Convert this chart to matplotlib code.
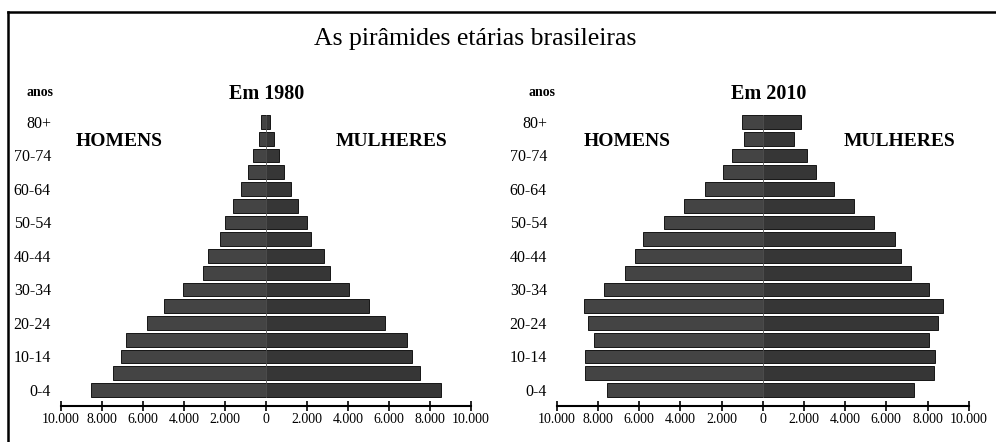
import matplotlib
matplotlib.use("Agg")
import matplotlib.pyplot as plt
from matplotlib.lines import Line2D
import numpy as np

plt.rcParams['font.family'] = ['Liberation Serif', 'DejaVu Serif']

ages = ['0-4', '5-9', '10-14', '15-19', '20-24', '25-29', '30-34', '35-39',
        '40-44', '45-49', '50-54', '55-59', '60-64', '65-69', '70-74', '75-79', '80+']
men_1980 = [8500, 7450, 7070, 6800, 5800, 4980, 4030, 3080, 2830, 2230, 1980, 1580, 1200, 890, 640, 340, 240]
women_1980 = [8540, 7510, 7120, 6860, 5820, 5040, 4070, 3150, 2850, 2200, 2000, 1590, 1220, 890, 650, 410, 180]
men_2010 = [7560, 8640, 8610, 8200, 8500, 8690, 7720, 6670, 6200, 5810, 4770, 3830, 2820, 1940, 1470, 920, 1000]
women_2010 = [7360, 8300, 8380, 8090, 8500, 8750, 8090, 7220, 6730, 6410, 5390, 4450, 3450, 2610, 2150, 1500, 1860]
xtick_values = [-10000, -8000, -6000, -4000, -2000, 0, 2000, 4000, 6000, 8000, 10000]
xtick_labels = ['10.000', '8.000', '6.000', '4.000', '2.000', '0', '2.000', '4.000', '6.000', '8.000', '10.000']
title = 'As pirâmides etárias brasileiras'
years = ['Em 1980', 'Em 2010']

W, H = 996, 442
fig = plt.figure(figsize=(W / 100, H / 100), dpi=100)

def fx(px):
    return px / W

def fy(py):
    return 1 - py / H

ax_bottom = fy(405.7)
ax_height = fy(60) - ax_bottom
panels = [
    (60.7, 471.0, men_1980, women_1980),
    (556.7, 968.7, men_2010, women_2010),
]

ylo, yhi = -0.94, 19.7
bar_h = 0.82
ypos = np.arange(len(ages))
for (x0, x1, men, women) in panels:
    ax = fig.add_axes([fx(x0), ax_bottom, fx(x1 - x0), ax_height])
    ax.barh(ypos, [-m for m in men], height=bar_h, color='#444444',
            edgecolor='#151515', linewidth=0.7)
    ax.barh(ypos, women, height=bar_h, color='#363636',
            edgecolor='#151515', linewidth=0.7)
    top = (len(ages) - 1 + bar_h / 2 - ylo) / (yhi - ylo)
    bot = (-bar_h / 2 - ylo) / (yhi - ylo)
    ax.axvline(0, ymin=bot, ymax=top, color='#565656', linewidth=0.6)
    ax.set_xlim(-10000, 10000)
    ax.set_ylim(ylo, yhi)
    ax.set_xticks(xtick_values)
    ax.set_xticklabels(xtick_labels, fontsize=10)
    ax.set_yticks(ypos[::2])
    ax.set_yticklabels(ages[::2], fontsize=11.5)
    ax.tick_params(axis='y', length=0, pad=7)
    ax.tick_params(axis='x', direction='inout', length=7, width=1.2, pad=2, color='black')
    for s in ['top', 'right', 'left']:
        ax.spines[s].set_visible(False)
    ax.spines['bottom'].set_linewidth(1.5)
    ax.set_facecolor('none')

# Panel annotations (figure pixel positions)
fig.text(fx(53), fy(92), 'anos', ha='right', va='center', fontsize=10, fontweight='bold')
fig.text(fx(555), fy(92), 'anos', ha='right', va='center', fontsize=10, fontweight='bold')
fig.text(fx(267), fy(94), years[0], ha='center', va='center', fontsize=14.5, fontweight='bold')
fig.text(fx(768.5), fy(94), years[1], ha='center', va='center', fontsize=14.5, fontweight='bold')
fig.text(fx(119), fy(141), 'HOMENS', ha='center', va='center', fontsize=14, fontweight='bold')
fig.text(fx(391.5), fy(141), 'MULHERES', ha='center', va='center', fontsize=14, fontweight='bold')
fig.text(fx(627.5), fy(141), 'HOMENS', ha='center', va='center', fontsize=14, fontweight='bold')
fig.text(fx(900), fy(141), 'MULHERES', ha='center', va='center', fontsize=14, fontweight='bold')
fig.text(fx(475), fy(39), title, ha='center', va='center', fontsize=18.5)

# Frame lines (top and left)
fig.add_artist(Line2D([fx(8), 1.0], [fy(12), fy(12)], color='black', linewidth=1.8))
fig.add_artist(Line2D([fx(8), fx(8)], [fy(12), 0.0], color='black', linewidth=1.8))

fig.savefig('out.png', dpi=100)
